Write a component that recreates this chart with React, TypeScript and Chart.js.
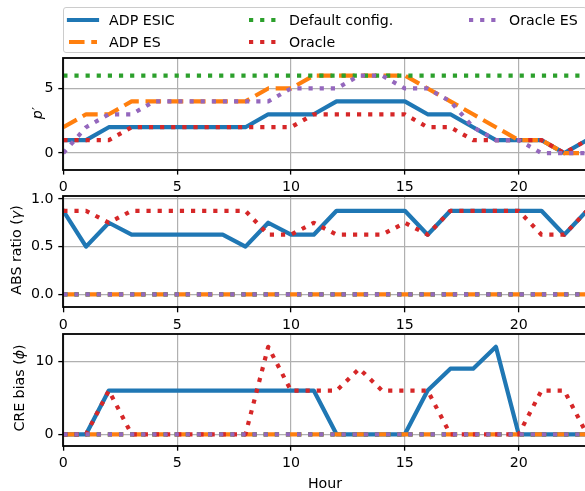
import React, { useEffect, useRef } from "react";
import { Chart, registerables } from "chart.js";

Chart.register(...registerables);

// ---------------- data ----------------
const HOURS = [0, 1, 2, 3, 4, 5, 6, 7, 8, 9, 10, 11, 12, 13, 14, 15, 16, 17, 18, 19, 20, 21, 22, 23];
const X_TICKS = [0, 5, 10, 15, 20];

const SERIES_NAMES = ["ADP ESIC", "ADP ES", "Default config.", "Oracle", "Oracle ES"];

// panel 1: p'
const P_ADP_ESIC = [1, 1, 2, 2, 2, 2, 2, 2, 2, 3, 3, 3, 4, 4, 4, 4, 3, 3, 2, 1, 1, 1, 0, 1];
const P_ADP_ES = [2, 3, 3, 4, 4, 4, 4, 4, 4, 5, 5, 6, 6, 6, 6, 6, 5, 4, 3, 2, 1, 1, 0, 0];
const P_DEFAULT = [6, 6, 6, 6, 6, 6, 6, 6, 6, 6, 6, 6, 6, 6, 6, 6, 6, 6, 6, 6, 6, 6, 6, 6];
const P_ORACLE = [1, 1, 1, 2, 2, 2, 2, 2, 2, 2, 2, 3, 3, 3, 3, 3, 2, 2, 1, 1, 1, 1, 0, 1];
const P_ORACLE_ES = [0, 2, 3, 3, 4, 4, 4, 4, 4, 4, 5, 5, 5, 6, 6, 5, 5, 4, 2, 1, 1, 0, 0, 0];
const P_TICKS = [0, 5];

// panel 2: ABS ratio (gamma)
const G_ADP_ESIC = [0.875, 0.5, 0.75, 0.625, 0.625, 0.625, 0.625, 0.625, 0.5, 0.75, 0.625, 0.625, 0.875, 0.875, 0.875, 0.875, 0.625, 0.875, 0.875, 0.875, 0.875, 0.875, 0.625, 0.875];
const G_ADP_ES = [0, 0, 0, 0, 0, 0, 0, 0, 0, 0, 0, 0, 0, 0, 0, 0, 0, 0, 0, 0, 0, 0, 0, 0];
const G_DEFAULT = [0, 0, 0, 0, 0, 0, 0, 0, 0, 0, 0, 0, 0, 0, 0, 0, 0, 0, 0, 0, 0, 0, 0, 0];
const G_ORACLE = [0.875, 0.875, 0.75, 0.875, 0.875, 0.875, 0.875, 0.875, 0.875, 0.625, 0.625, 0.75, 0.625, 0.625, 0.625, 0.75, 0.625, 0.875, 0.875, 0.875, 0.875, 0.625, 0.625, 0.875];
const G_ORACLE_ES = [0, 0, 0, 0, 0, 0, 0, 0, 0, 0, 0, 0, 0, 0, 0, 0, 0, 0, 0, 0, 0, 0, 0, 0];
const G_TICKS = [0, 0.5, 1.0];

// panel 3: CRE bias (phi)
const F_ADP_ESIC = [0, 0, 6, 6, 6, 6, 6, 6, 6, 6, 6, 6, 0, 0, 0, 0, 6, 9, 9, 12, 0, 0, 0, 0];
const F_ADP_ES = [0, 0, 0, 0, 0, 0, 0, 0, 0, 0, 0, 0, 0, 0, 0, 0, 0, 0, 0, 0, 0, 0, 0, 0];
const F_DEFAULT = [0, 0, 0, 0, 0, 0, 0, 0, 0, 0, 0, 0, 0, 0, 0, 0, 0, 0, 0, 0, 0, 0, 0, 0];
const F_ORACLE = [0, 0, 6, 0, 0, 0, 0, 0, 0, 12, 6, 6, 6, 9, 6, 6, 6, 0, 0, 0, 0, 6, 6, 0];
const F_ORACLE_ES = [0, 0, 0, 0, 0, 0, 0, 0, 0, 0, 0, 0, 0, 0, 0, 0, 0, 0, 0, 0, 0, 0, 0, 0];
const F_TICKS = [0, 10];

// ---------------- styles ----------------
const FONT = "'DejaVu Sans', 'Liberation Sans', sans-serif";
const FS = 14.2;
const COLORS = ["#1f77b4", "#ff7f0e", "#2ca02c", "#d62728", "#9467bd"];
const LW = 4.2;
const DASHES = [[], [3.7 * LW, 1.6 * LW], [LW, 1.65 * LW], [LW, 1.65 * LW], [LW, 1.65 * LW]];
const CAPS = ["square", "butt", "butt", "butt", "butt"];
const GRID_COLOR = "#b0b0b0";
const GRID_W = 1.2;
const SPINE_W = 1.8;
const TICK_LEN = 5;

const PLOT_LEFT = 63.3;
const PLOT_RIGHT = 587;
const CANVAS_W = 600;
const BELOW = 40;

type Panel = {
  series: number[][];
  yMin: number;
  yMax: number;
  yTicks: number[];
  decimals: number;
  top: number;
  bottom: number;
};

const PANELS: Panel[] = [
  { series: [P_ADP_ESIC, P_ADP_ES, P_DEFAULT, P_ORACLE, P_ORACLE_ES], yMin: -1.28, yMax: 7.34, yTicks: P_TICKS, decimals: 0, top: 55.8, bottom: 169.6 },
  { series: [G_ADP_ESIC, G_ADP_ES, G_DEFAULT, G_ORACLE, G_ORACLE_ES], yMin: -0.136, yMax: 1.028, yTicks: G_TICKS, decimals: 1, top: 193.3, bottom: 307.3 },
  { series: [F_ADP_ESIC, F_ADP_ES, F_DEFAULT, F_ORACLE, F_ORACLE_ES], yMin: -1.56, yMax: 13.73, yTicks: F_TICKS, decimals: 0, top: 331, bottom: 445.7 },
];

function canvasGeom(p: Panel) {
  const top = Math.floor(p.top) - 10;
  const h = Math.ceil(p.bottom + BELOW - top);
  return { top, h };
}

const framePlugin = {
  id: "frame",
  afterDatasetsDraw(chart: any) {
    const { ctx, chartArea: a } = chart;
    ctx.save();
    ctx.strokeStyle = "#000";
    ctx.lineWidth = SPINE_W;
    const l = Math.round(a.left), t = Math.round(a.top), r = Math.round(a.right), b = Math.round(a.bottom);
    ctx.strokeRect(l, t, r - l, b - t);
    ctx.restore();
  },
};

function makeChart(canvas: HTMLCanvasElement, p: Panel) {
  const g = canvasGeom(p);
  const padTop = p.top - g.top;
  const xH = g.top + g.h - p.bottom;
  const tickFont = { family: FONT, size: FS };
  return new Chart(canvas, {
    type: "line",
    data: {
      datasets: p.series.map((vals, i) => ({
        label: SERIES_NAMES[i],
        data: HOURS.map((h, j) => ({ x: h, y: vals[j] })),
        borderColor: COLORS[i],
        backgroundColor: COLORS[i],
        borderWidth: LW,
        borderDash: DASHES[i],
        borderCapStyle: CAPS[i] as any,
        borderJoinStyle: "round" as any,
        pointRadius: 0,
        pointHoverRadius: 0,
        tension: 0,
        fill: false,
        clip: 0,
        order: SERIES_NAMES.length - i,
      })),
    },
    options: {
      animation: false,
      responsive: false,
      maintainAspectRatio: false,
      devicePixelRatio: 1,
      events: [],
      layout: { padding: { top: padTop, left: 0, right: CANVAS_W - PLOT_RIGHT, bottom: 0 } },
      plugins: { legend: { display: false }, tooltip: { enabled: false } },
      scales: {
        x: {
          type: "linear",
          min: 0,
          max: 23,
          afterBuildTicks: (s: any) => {
            s.ticks = X_TICKS.map((v) => ({ value: v }));
          },
          afterFit: (s: any) => {
            s.height = xH;
          },
          grid: { color: GRID_COLOR, lineWidth: GRID_W, drawTicks: true, tickLength: TICK_LEN, tickColor: "#000", tickWidth: 1.3 },
          border: { display: false },
          ticks: { color: "#000", font: tickFont, padding: 4.5, maxRotation: 0, minRotation: 0, autoSkip: false, callback: (v: any) => String(v) },
        },
        y: {
          type: "linear",
          min: p.yMin,
          max: p.yMax,
          afterBuildTicks: (s: any) => {
            s.ticks = p.yTicks.map((v) => ({ value: v }));
          },
          afterFit: (s: any) => {
            s.width = PLOT_LEFT;
          },
          grid: { color: GRID_COLOR, lineWidth: GRID_W, drawTicks: true, tickLength: TICK_LEN, tickColor: "#000", tickWidth: 1.3 },
          border: { display: false },
          ticks: { color: "#000", font: tickFont, padding: 4.7, autoSkip: false, callback: (v: any) => Number(v).toFixed(p.decimals) },
        },
      },
    } as any,
    plugins: [framePlugin],
  });
}

// ---------------- legend ----------------
const LEGEND_ITEMS = [
  { idx: 0, x: 69, row: 0 },
  { idx: 1, x: 69, row: 1 },
  { idx: 2, x: 249, row: 0 },
  { idx: 3, x: 249, row: 1 },
  { idx: 4, x: 469, row: 0 },
];
const LEGEND_ROWS = [19.5, 41.5];

function Handle({ i }: { i: number }) {
  const d = DASHES[i];
  return (
    <svg width={36} height={12} style={{ display: "block", overflow: "visible" }}>
      <line
        x1={4}
        y1={6}
        x2={32}
        y2={6}
        stroke={COLORS[i]}
        strokeWidth={LW}
        strokeDasharray={d.length ? d.join(" ") : undefined}
        strokeLinecap={CAPS[i] as any}
      />
    </svg>
  );
}

function Legend() {
  return (
    <>
      <div
        style={{
          position: "absolute",
          left: 63,
          top: 6.5,
          width: PLOT_RIGHT - 63,
          height: 46.5,
          boxSizing: "border-box",
          border: "1.1px solid #cccccc",
          borderRadius: 3,
          background: "rgba(255,255,255,0.8)",
        }}
      />
      {LEGEND_ITEMS.map((it) => (
        <React.Fragment key={it.idx}>
          <div style={{ position: "absolute", left: it.x - 4, top: LEGEND_ROWS[it.row] - 6 }}>
            <Handle i={it.idx} />
          </div>
          <div
            style={{
              position: "absolute",
              left: it.x + 40,
              top: LEGEND_ROWS[it.row],
              transform: "translateY(-50%)",
              fontFamily: FONT,
              fontSize: FS,
              lineHeight: 1,
              whiteSpace: "nowrap",
              color: "#000",
            }}
          >
            {SERIES_NAMES[it.idx]}
          </div>
        </React.Fragment>
      ))}
    </>
  );
}

function RotLabel({ x, y, children }: { x: number; y: number; children: React.ReactNode }) {
  return (
    <div
      style={{
        position: "absolute",
        left: x,
        top: y,
        transform: "translate(-50%, -50%) rotate(-90deg)",
        fontFamily: FONT,
        fontSize: FS,
        lineHeight: 1.15,
        whiteSpace: "nowrap",
        color: "#000",
      }}
    >
      {children}
    </div>
  );
}

export default function App() {
  const r0 = useRef<HTMLCanvasElement>(null);
  const r1 = useRef<HTMLCanvasElement>(null);
  const r2 = useRef<HTMLCanvasElement>(null);
  const refs = [r0, r1, r2];

  useEffect(() => {
    const charts = PANELS.map((p, i) => makeChart(refs[i].current as HTMLCanvasElement, p));
    return () => charts.forEach((c) => c.destroy());
  }, []);

  return (
    <div
      style={{
        position: "fixed",
        left: 0,
        top: 0,
        width: 585,
        height: 491,
        overflow: "hidden",
        background: "#fff",
      }}
    >
      {PANELS.map((p, i) => {
        const g = canvasGeom(p);
        return (
          <canvas
            key={i}
            ref={refs[i]}
            width={CANVAS_W}
            height={g.h}
            style={{ position: "absolute", left: 0, top: g.top, width: CANVAS_W, height: g.h }}
          />
        );
      })}
      <Legend />
      <RotLabel x={37} y={113}>
        <i>p</i>′
      </RotLabel>
      <RotLabel x={15.5} y={250.3}>
        ABS ratio (<i>γ</i>)
      </RotLabel>
      <RotLabel x={18.5} y={388.3}>
        CRE bias (<i>ϕ</i>)
      </RotLabel>
      <div
        style={{
          position: "absolute",
          left: 325,
          top: 482.7,
          transform: "translate(-50%, -50%)",
          fontFamily: FONT,
          fontSize: FS,
          lineHeight: 1,
          whiteSpace: "nowrap",
          color: "#000",
        }}
      >
        Hour
      </div>
    </div>
  );
}
